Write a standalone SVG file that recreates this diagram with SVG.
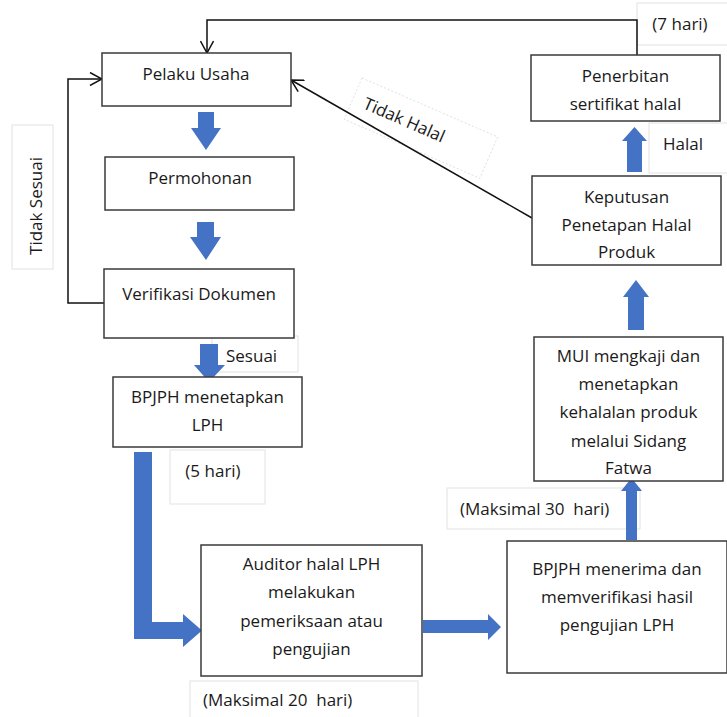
<svg xmlns="http://www.w3.org/2000/svg" width="727" height="717" viewBox="0 0 727 717">
<style>
.box{fill:#fff;stroke:#3a3a3a;stroke-width:1.5}
.lbl{fill:#fff;stroke:#e2e2e2;stroke-width:1}
.t{font-family:"Open Sans","Noto Sans",sans-serif;font-size:17px;fill:#1a1a1a;text-anchor:middle}
.ts{font-family:"Open Sans","Noto Sans",sans-serif;font-size:17px;fill:#1a1a1a}
.blue{fill:#4472C4}
.con{fill:none;stroke:#111;stroke-width:1.5}
</style>
<defs>
<marker id="open" viewBox="0 0 14 14" refX="13" refY="7" markerWidth="14" markerHeight="14" markerUnits="userSpaceOnUse" orient="auto">
<path d="M1,0.5 L13,7 L1,13.5" fill="none" stroke="#111" stroke-width="1.5"/>
</marker>
</defs>
<rect width="727" height="717" fill="#fff"/>

<g id="labels">
<g id="lbl-tidak-sesuai"><rect class="lbl" x="12" y="125" width="41" height="144"/><text class="t" transform="translate(41.5,206) rotate(-90)">Tidak Sesuai</text></g>
<g id="lbl-sesuai"><rect class="lbl" x="212" y="336" width="86" height="36"/><text class="ts" x="226" y="362">Sesuai</text></g>
<g id="lbl-5hari"><rect class="lbl" x="170" y="450" width="95" height="54"/><text class="t" x="213" y="477">(5 hari)</text></g>
<g id="lbl-20hari"><rect class="lbl" x="190" y="681" width="228" height="40"/><text class="ts" x="203" y="706" xml:space="preserve">(Maksimal 20  hari)</text></g>
<g id="lbl-30hari"><rect class="lbl" x="447" y="488" width="193" height="41"/><text class="ts" x="460" y="515" xml:space="preserve">(Maksimal 30  hari)</text></g>
<g id="lbl-halal"><rect class="lbl" x="649" y="123" width="80" height="50"/><text class="t" x="683" y="150">Halal</text></g>
<g id="lbl-7hari"><rect class="lbl" x="637" y="3" width="92" height="42"/><text class="t" x="680" y="30">(7 hari)</text></g>
<g id="lbl-tidak-halal" transform="translate(362,78) rotate(23.5)"><rect x="0" y="0" width="148" height="45" fill="#fff" stroke="#dcdcdc" stroke-width="0.8" stroke-dasharray="2 2"/><text class="ts" x="12" y="27.5">Tidak Halal</text></g>
</g>

<g id="connectors">
<polyline class="con" points="637,55 637,20 207,20 207,53" marker-end="url(#open)"/>
<polyline class="con" points="104,303 68,303 68,79 102,79" marker-end="url(#open)"/>
<line class="con" x1="532" y1="218" x2="291" y2="80" marker-end="url(#open)"/>
<polygon class="blue" points="198,112 214,112 214,128 221,128 206,150 191,128 198,128"/>
<polygon class="blue" points="197,222 214,222 214,237 221,237 206,260 190,237 197,237"/>
<polygon class="blue" points="200,344 218,344 218,365 225,365 209,382 194,365 200,365"/>
<polygon class="blue" points="134,452 152,452 152,622 183,622 183,614 202,630.5 183,647 183,639 134,639"/>
<polygon class="blue" points="423,620 488,620 488,614 501,627 488,640 488,633 423,633"/>
<polygon class="blue" points="626,540 637,540 637,491 642,491 631.5,478 621,491 626,491"/>
<polygon class="blue" points="628,330 644,330 644,297 649,297 636,280 623,297 628,297"/>
<polygon class="blue" points="627,172 642,172 642,141 647,141 634.5,127 622,141 627,141"/>
</g>

<g id="n-pelaku"><rect class="box" x="102" y="53" width="189" height="53"/><text class="t" x="196" y="80">Pelaku Usaha</text></g>
<g id="n-permohonan"><rect class="box" x="105" y="157" width="189" height="53"/><text class="t" x="200" y="184">Permohonan</text></g>
<g id="n-verifikasi"><rect class="box" x="104" y="269" width="190" height="69"/><text class="t" x="199" y="300">Verifikasi Dokumen</text></g>
<g id="n-bpjph-lph"><rect class="box" x="113" y="377" width="189" height="70"/><text class="t" x="207.5" y="403">BPJPH menetapkan</text><text class="t" x="207.5" y="431">LPH</text></g>
<g id="n-auditor"><rect class="box" x="201" y="545" width="221" height="131"/><text class="t" x="311.5" y="570">Auditor halal LPH</text><text class="t" x="311.5" y="598">melakukan</text><text class="t" x="311.5" y="627">pemeriksaan atau</text><text class="t" x="311.5" y="655">pengujian</text></g>
<g id="n-bpjph-verif"><rect class="box" x="507" y="541" width="220" height="132"/><text class="t" x="617" y="575">BPJPH menerima dan</text><text class="t" x="617" y="603">memverifikasi hasil</text><text class="t" x="617" y="631">pengujian LPH</text></g>
<g id="n-mui"><rect class="box" x="534" y="337" width="189" height="144"/><text class="t" x="628.5" y="362">MUI mengkaji dan</text><text class="t" x="628.5" y="390">menetapkan</text><text class="t" x="628.5" y="418">kehalalan produk</text><text class="t" x="628.5" y="447">melalui Sidang</text><text class="t" x="628.5" y="474">Fatwa</text></g>
<g id="n-keputusan"><rect class="box" x="532" y="176" width="189" height="89"/><text class="t" x="626.5" y="203">Keputusan</text><text class="t" x="626.5" y="231">Penetapan Halal</text><text class="t" x="626.5" y="258">Produk</text></g>
<g id="n-penerbitan"><rect class="box" x="531" y="55" width="189" height="66"/><text class="t" x="625.5" y="82">Penerbitan</text><text class="t" x="625.5" y="110">sertifikat halal</text></g>
</svg>
